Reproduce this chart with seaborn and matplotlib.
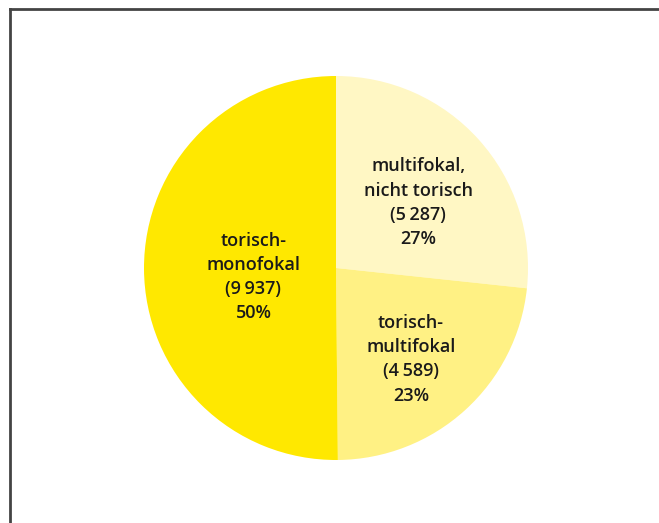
import matplotlib
matplotlib.use("Agg")
import matplotlib.pyplot as plt
import seaborn as sns
import numpy as np

# slices, clockwise from 12 o'clock
labels = ["multifokal,\nnicht torisch", "torisch-\nmultifokal", "torisch-\nmonofokal"]
counts = [5287, 4589, 9937]
colors = ["#FFF7C4", "#FFF184", "#FFE800"]

sns.set_theme(style="white")
plt.rcParams['font.family'] = ['Open Sans', 'DejaVu Sans']

fig = plt.figure(figsize=(6.59, 5.23), dpi=100)

# frame: top and left line only
frame = fig.add_axes([9.5 / 659, -0.01, 1.0, 1 - 8.5 / 523 + 0.01])
frame.set_xticks([])
frame.set_yticks([])
for side in ["right", "bottom"]:
    frame.spines[side].set_visible(False)
for side in ["top", "left"]:
    frame.spines[side].set_color("#444444")
    frame.spines[side].set_linewidth(2)
frame.patch.set_alpha(0)

ax = fig.add_axes([144 / 659, 63 / 523, 384 / 659, 384 / 523])
wedges, _ = ax.pie(counts, colors=colors, startangle=90, counterclock=False,
                   wedgeprops=dict(linewidth=0))
ax.set_xlim(-1, 1)
ax.set_ylim(-1, 1)
ax.set_aspect("equal")

total = sum(counts)
label_r = [0.575, 0.58, 0.43]
for w, lab, n, r in zip(wedges, labels, counts, label_r):
    mid = np.deg2rad((w.theta1 + w.theta2) / 2)
    pct = round(100 * n / total)
    txt = f"{lab}\n({n // 1000}\u2009{n % 1000:03d})\n{pct}%"
    ax.text(r * np.cos(mid), r * np.sin(mid) - 0.045, txt, ha="center", va="center",
            fontsize=13, fontweight="semibold", color="#1a1a1a", linespacing=1.45)

fig.savefig("out.png", dpi=100)
